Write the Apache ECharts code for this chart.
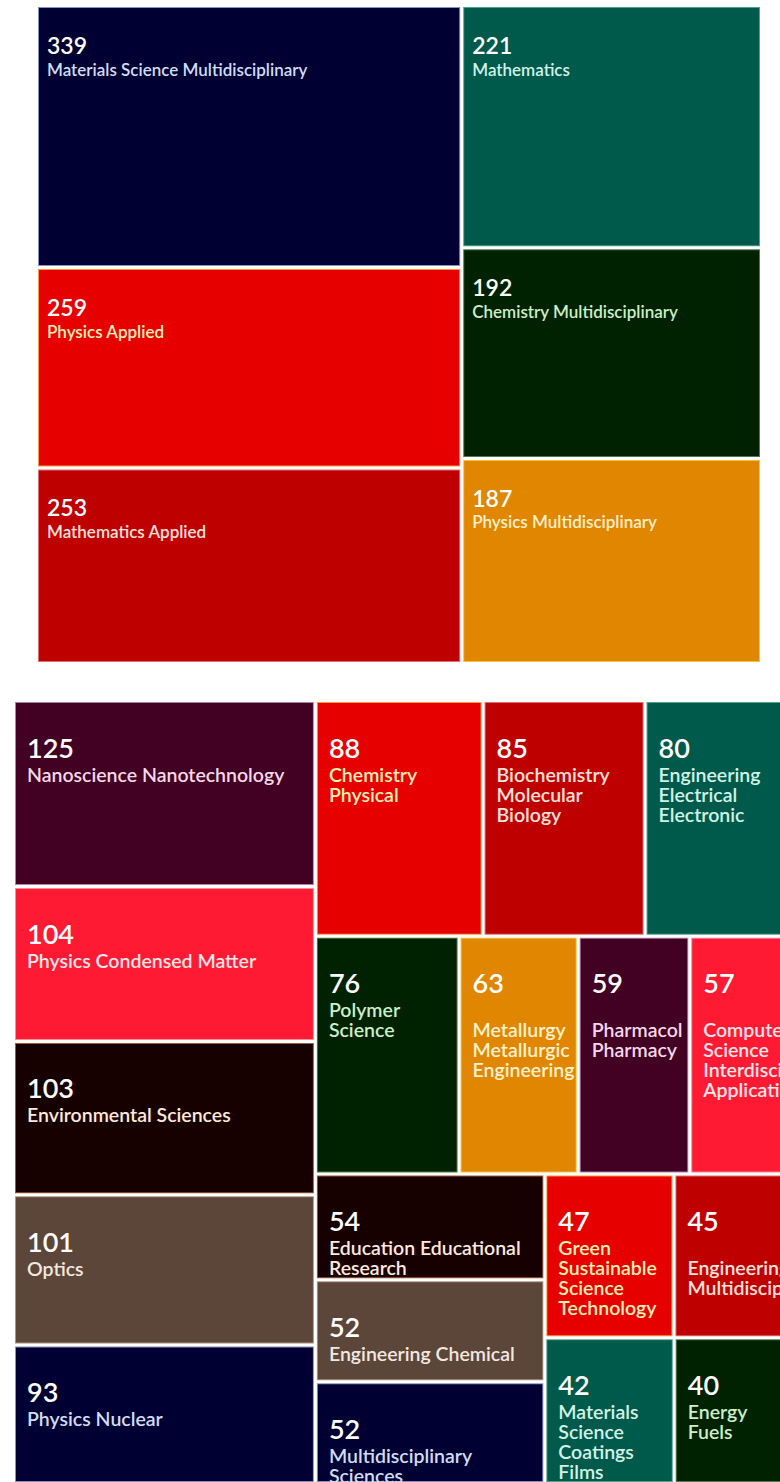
<!DOCTYPE html>
<html>
<head>
<meta charset="utf-8">
<script src="https://cdn.jsdelivr.net/npm/echarts@6/dist/echarts.min.js"></script>
<style>
html,body{margin:0;padding:0;background:#ffffff;}
#chart{width:780px;height:1482px;}
</style>
</head>
<body>
<div id="chart"></div>
<script>
// ---- data ----
const categories = [
  'Materials Science Multidisciplinary', 'Physics Applied', 'Mathematics Applied', 'Mathematics',
  'Chemistry Multidisciplinary', 'Physics Multidisciplinary', 'Nanoscience Nanotechnology',
  'Physics Condensed Matter', 'Environmental Sciences', 'Optics', 'Physics Nuclear',
  'Chemistry Physical', 'Biochemistry Molecular Biology', 'Engineering Electrical Electronic',
  'Polymer Science', 'Metallurgy Metallurgical Engineering', 'Pharmacology Pharmacy',
  'Computer Science Interdisciplinary Applications', 'Education Educational Research',
  'Engineering Chemical', 'Multidisciplinary Sciences', 'Green Sustainable Science Technology',
  'Engineering Multidisciplinary', 'Materials Science Coatings Films', 'Energy Fuels'
];
const values = [339, 259, 253, 221, 192, 187, 125, 104, 103, 101, 93, 88, 85, 80, 76, 63, 59, 57, 54, 52, 52, 47, 45, 42, 40];
const topCount = 6;

// ---- styles ----
const palette = ['#000033', '#e60000', '#bf0000', '#005a4b', '#002200', '#e08600', '#420022', '#ff1a33', '#170000', '#5c4539'];
const borderTints = ['#8890c0', '#ff9a40', '#e07070', '#50a090', '#4c7c4c', '#f5c040', '#b080a8', '#ff8a98', '#a05a3c', '#a89484'];
const labelTints = ['#d2dcf5', '#fff0b4', '#ffe2da', '#d2f2e6', '#cdeec6', '#fff1cc', '#f4d8ea', '#ffe6e8', '#ffe8dc', '#f2e8e0'];

const FONT = 'Lato';
const WRAP_MARGIN = 24;
const styTop = { prefix: 't', numSize: 23, numLH: 28, nameSize: 17, nameLH: 20, pad: [23, 0, -200, 8] };
const styBot = { prefix: 'b', numSize: 27, numLH: 34, nameSize: 19.5, nameLH: 20, pad: [27, 0, -200, 11] };

const chart = echarts.init(document.getElementById('chart'), null, { renderer: 'svg' });

const mctx = document.createElement('canvas').getContext('2d');
function tw(s, font) { mctx.font = font; return mctx.measureText(s).width; }
function wrapWords(name, maxW, font) {
  const words = name.split(' ');
  const lines = [];
  let line = '';
  for (const w of words) {
    const test = line ? line + ' ' + w : w;
    if (tw(test, font) > maxW) { lines.push(line); line = w; }
    else { line = test; }
  }
  lines.push(line);
  return lines;
}

function buildRich(sty) {
  const rich = {};
  rich[sty.prefix + 'v'] = { fontFamily: FONT, fontWeight: 600, fontSize: sty.numSize, lineHeight: sty.numLH, color: '#ffffff' };
  palette.forEach((c, i) => {
    rich[sty.prefix + i] = { fontFamily: FONT, fontWeight: 600, fontSize: sty.nameSize, lineHeight: sty.nameLH, color: labelTints[i] };
  });
  return rich;
}

function makeFormatter(sty) {
  const font = '600 ' + sty.nameSize + 'px ' + FONT;
  return function (p) {
    const rank = (p.data && p.data.rank != null) ? p.data.rank : categories.indexOf(p.name);
    let maxW = Infinity;
    try {
      const lay = chart.getModel().getSeriesByIndex(p.seriesIndex).getData().getItemLayout(p.dataIndex);
      if (lay && lay.width) maxW = lay.width - WRAP_MARGIN;
    } catch (e) {}
    const lines = wrapWords(p.name, maxW, font);
    const key = sty.prefix + (rank % palette.length);
    return '{' + sty.prefix + 'v|' + p.value + '}\n' +
      lines.map(l => '{' + key + '|' + (l || ' ') + '}').join('\n');
  };
}

function items(from, to) {
  const out = [];
  for (let i = from; i < to; i++) {
    out.push({
      name: categories[i], value: values[i], rank: i,
      itemStyle: { color: palette[i % palette.length], borderColor: borderTints[i % palette.length] }
    });
  }
  return out;
}

function series(box, ratio, sty, data) {
  return {
    type: 'treemap',
    left: box[0], top: box[1], width: box[2], height: box[3],
    squareRatio: ratio,
    sort: false,
    roam: false, nodeClick: false,
    breadcrumb: { show: false },
    animation: false,
    visibleMin: 0,
    levels: [
      { itemStyle: { gapWidth: 3, borderWidth: 0, borderColor: '#ffffff' } },
      { itemStyle: { borderWidth: 1, gapWidth: 0 } }
    ],
    label: {
      show: true, position: 'insideTopLeft', distance: 0,
      padding: sty.pad, overflow: 'truncate', ellipsis: '',
      formatter: makeFormatter(sty), rich: buildRich(sty)
    },
    upperLabel: { show: false },
    emphasis: { disabled: true },
    data: data
  };
}

chart.setOption({
  backgroundColor: '#ffffff',
  tooltip: { show: false },
  series: [
    series([38, 7, 722, 655], 1.35, styTop, items(0, topCount)),
    series([15, 702, 781, 780], 1.65, styBot, items(topCount, values.length))
  ]
});
</script>
</body>
</html>
